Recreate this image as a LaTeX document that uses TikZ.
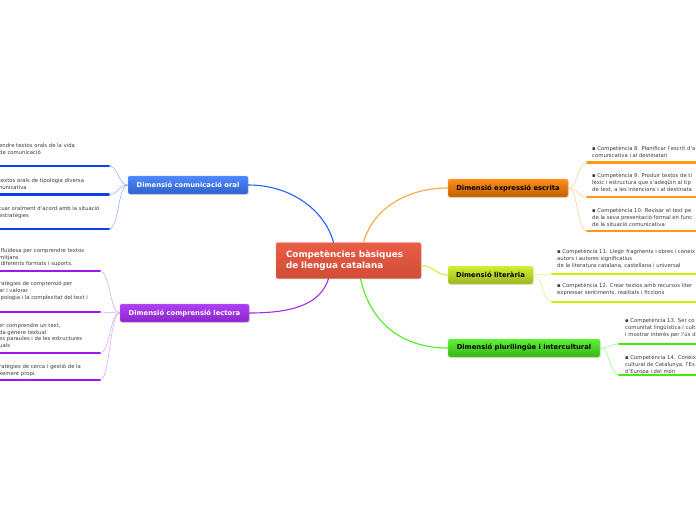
\documentclass[tikz,border=0pt]{standalone}
\usepackage{fontspec}
\setmainfont{DejaVu Sans}
\usetikzlibrary{shadings,shadows}
\definecolor{cred}{HTML}{E8553C}
\definecolor{cblue}{HTML}{2262FF}
\definecolor{cpurple}{HTML}{A52CF2}
\definecolor{corange}{HTML}{FFA640}
\definecolor{cyg}{HTML}{D2F030}
\definecolor{cgreen}{HTML}{4CF020}
\definecolor{ulblue}{HTML}{0E42E8}
\definecolor{ulpurple}{HTML}{A214EA}
\definecolor{ulorange}{HTML}{FF9A12}
\definecolor{ulyg}{HTML}{CCF000}
\definecolor{ulgreen}{HTML}{40EE00}
\definecolor{leaftext}{HTML}{3A3A3A}
\definecolor{boxblue}{HTML}{3A7BFF}
\tikzset{
  box/.style={rounded corners=2pt, inner sep=0pt, minimum height=18pt,
    font=\fontsize{6.8}{8}\selectfont\bfseries,
    drop shadow={opacity=0.25, shadow xshift=0.8pt, shadow yshift=-0.8pt}},
  central/.style={box, minimum width=145pt, minimum height=36pt, top color=cred!95!white, bottom color=cred!90!black,
    draw=cred!70!white, text=white, font=\fontsize{8.8}{11}\selectfont\bfseries, align=left, text width=125pt},
  bluebox/.style={box, top color=boxblue!90!white, bottom color=boxblue!80!black, draw=boxblue!70!white, text=white},
  purplebox/.style={box, top color=cpurple!90!white, bottom color=cpurple!85!black, draw=cpurple!70!white, text=white},
  orangebox/.style={box, top color=orange!60!corange, bottom color=orange!75!black, draw=orange!70!white, text=black},
  ygbox/.style={box, top color=cyg, bottom color=cyg!75!black, draw=cyg!70!white, text=black},
  greenbox/.style={box, top color=cgreen!90!white, bottom color=cgreen!75!black, draw=cgreen!70!white, text=black},
  mainline/.style={line width=1.1pt, line cap=round},
  leafline/.style={line width=0.5pt},
  uline/.style={line width=2.4pt, line cap=round},
  leaf/.style={inner sep=0pt, align=left, text=leaftext, font=\fontsize{5.3}{6.7}\selectfont},
}
\begin{document}
\begin{tikzpicture}[x=1pt, y=-1pt]
\fill[white] (0,0) rectangle (696,520);
\path[use as bounding box, clip] (0,0) rectangle (696,520);

% central and branch nodes
\node[central] (c) at (348.5,260.5) {Competències bàsiques\\de llengua catalana};
\node[bluebox, minimum width=120pt] (oral) at (188,185) {Dimensió comunicació oral};
\node[purplebox, minimum width=129pt] (lect) at (184.5,313) {Dimensió comprensió lectora};
\node[orangebox, minimum width=120pt] (escr) at (508,188) {Dimensió expressió escrita};
\node[ygbox, minimum width=85pt] (lit) at (490.5,275) {Dimensió literària};
\node[greenbox, minimum width=152pt] (plur) at (524,348) {Dimensió plurilingüe i intercultural};

% main connectors
\draw[mainline, cblue] (oral.east) .. controls +(45,0) and +(-8,-30) .. ([xshift=-15pt]c.north);
\draw[mainline, cpurple] (lect.east) .. controls +(45,0) and +(-8,25) .. ([xshift=-20pt]c.south);
\draw[mainline, corange] ([xshift=15pt]c.north) .. controls +(8,-30) and +(-45,0) .. (escr.west);
\draw[mainline, cyg] ([yshift=-5pt]c.east) .. controls +(12,0) and +(-12,0) .. (lit.west);
\draw[mainline, cgreen] ([xshift=12pt]c.south) .. controls +(10,45) and +(-45,0) .. (plur.west);

% ---- oral leaves
\coordinate (o1a) at (-5,166); \coordinate (o1b) at (109,166);
\coordinate (o2a) at (-5,194.5); \coordinate (o2b) at (109,194.5);
\coordinate (o3a) at (-5,229); \coordinate (o3b) at (109,229);
\node[leaf, anchor=north west] (o1t) at (-1,143.3) {endre textos orals de la vida\\de comunicació};
\node[leaf, anchor=north west] (o2t) at (-3,178.3) {~textos orals de tipologia diversa\\municativa};
\node[leaf, anchor=north west] (o3t) at (-1,206.3) {tuar oralment d'acord amb la situació\\estratègies};
\foreach \i in {1,2,3}{\draw[uline, ulblue] (o\i a) -- (o\i b);
  \draw[leafline, cblue!55!white] (oral.west) .. controls +(-10,0) and +(10,0) .. (o\i b);}

% ---- lectora leaves
\coordinate (r1a) at (-5,271); \coordinate (r1b) at (100,271);
\coordinate (r2a) at (-5,312); \coordinate (r2b) at (100,312);
\coordinate (r3a) at (-5,353); \coordinate (r3b) at (100,353);
\coordinate (r4a) at (-5,380); \coordinate (r4b) at (100,380);
\node[leaf, anchor=north west] (r1t) at (-1,248.3) {~fluïdesa per comprendre textos\\mitjans\\~diferents formats i suports.};
\node[leaf, anchor=north west] (r2t) at (-1,281.3) {ratègies de comprensió per\\ar i valorar\\ipologia i la complexitat del text i};
\node[leaf, anchor=north west] (r3t) at (-1,323.3) {er comprendre un text,\\da gènere textual\\es paraules i de les estructures\\uals};
\node[leaf, anchor=north west] (r4t) at (-1,364.3) {ratègies de cerca i gestió de la\\xement propi.};
\foreach \i in {1,2,3,4}{\draw[uline, ulpurple] (r\i a) -- (r\i b);
  \draw[leafline, cpurple!45!white] (lect.west) .. controls +(-10,0) and +(10,0) .. (r\i b);}

% ---- escrita leaves
\coordinate (e1a) at (587,162.5); \coordinate (e1b) at (705,162.5);
\coordinate (e2a) at (587,197); \coordinate (e2b) at (705,197);
\coordinate (e3a) at (587,231); \coordinate (e3b) at (705,231);
\node[leaf, anchor=north west] (e1t) at (592,146.3) {▪ Competència 8. Planificar l'escrit d'a\\comunicativa i al destinatari};
\node[leaf, anchor=north west] (e2t) at (592,173.3) {▪ Competència 9. Produir textos de ti\\lèxic i estructura que s'adeqüin al tip\\de text, a les intencions i al destinata};
\node[leaf, anchor=north west] (e3t) at (592,208.3) {▪ Competència 10. Revisar el text pe\\de la seva presentació formal en func\\de la situació comunicativa};
\foreach \i in {1,2,3}{\draw[uline, ulorange] (e\i a) -- (e\i b);
  \draw[leafline, corange!60!white] (escr.east) .. controls +(10,0) and +(-10,0) .. (e\i a);}

% ---- literaria leaves
\coordinate (l1a) at (552,274); \coordinate (l1b) at (705,274);
\coordinate (l2a) at (552,302); \coordinate (l2b) at (705,302);
\node[leaf, anchor=north west] (l1t) at (557,249.3) {▪ Competència 11. Llegir fragments i obres i coneix\\autors i autores significatius\\de la literatura catalana, castellana i universal};
\node[leaf, anchor=north west] (l2t) at (557,283.3) {▪ Competència 12. Crear textos amb recursos liter\\expressar sentiments, realitats i ficcions};
\foreach \i in {1,2}{\draw[uline, ulyg] (l\i a) -- (l\i b);
  \draw[leafline, cyg!70!white] (lit.east) .. controls +(10,0) and +(-10,0) .. (l\i a);}

% ---- plurilingue leaves
\coordinate (p1a) at (619,344); \coordinate (p1b) at (705,344);
\coordinate (p2a) at (619,375); \coordinate (p2b) at (705,375);
\node[leaf, anchor=north west] (p1t) at (625,318.3) {▪ Competència 13. Ser co\\comunitat lingüística i cult\\i mostrar interès per l'ús d};
\node[leaf, anchor=north west] (p2t) at (625,355.3) {▪ Competència 14. Conèix\\cultural de Catalunya, l'Es\\d'Europa i del món};
\foreach \i in {1,2}{\draw[uline, ulgreen] (p\i a) -- (p\i b);
  \draw[leafline, cgreen!60!white] (plur.east) .. controls +(10,0) and +(-10,0) .. (p\i a);}
\end{tikzpicture}
\end{document}
